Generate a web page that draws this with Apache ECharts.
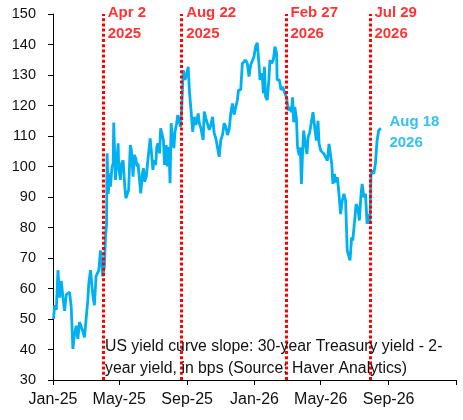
<!DOCTYPE html>
<html>
<head>
<meta charset="utf-8">
<script src="https://cdn.jsdelivr.net/npm/echarts@6/dist/echarts.min.js"></script>
<style>
html,body{margin:0;padding:0;background:#fff;}
#chart{width:463px;height:420px;}
</style>
</head>
<body>
<div id="chart"></div>
<script>
// ---- data ----
const dates = [
'2025-01-02','2025-01-04','2025-01-07','2025-01-10','2025-01-13','2025-01-16','2025-01-19','2025-01-22','2025-01-25','2025-01-28','2025-01-31',
'2025-02-03','2025-02-06','2025-02-09','2025-02-12','2025-02-15','2025-02-18','2025-02-21','2025-02-24','2025-02-27',
'2025-03-02','2025-03-05','2025-03-07','2025-03-10','2025-03-12','2025-03-14','2025-03-17','2025-03-20','2025-03-23','2025-03-25','2025-03-28','2025-03-30',
'2025-04-01','2025-04-04','2025-04-06','2025-04-08','2025-04-09','2025-04-11','2025-04-14','2025-04-15','2025-04-18','2025-04-20','2025-04-21','2025-04-24','2025-04-26','2025-04-29','2025-04-30',
'2025-05-03','2025-05-05','2025-05-08','2025-05-11','2025-05-13','2025-05-15','2025-05-18','2025-05-21','2025-05-23','2025-05-26','2025-05-28','2025-05-31',
'2025-06-02','2025-06-04','2025-06-07','2025-06-09','2025-06-12','2025-06-14','2025-06-16','2025-06-19','2025-06-21','2025-06-24','2025-06-26','2025-06-28',
'2025-07-01','2025-07-03','2025-07-06','2025-07-08','2025-07-10','2025-07-13','2025-07-15','2025-07-18','2025-07-20','2025-07-22','2025-07-25','2025-07-27','2025-07-30',
'2025-08-01','2025-08-03','2025-08-05','2025-08-08','2025-08-10','2025-08-13','2025-08-15','2025-08-17','2025-08-20','2025-08-22','2025-08-25','2025-08-28','2025-08-30',
'2025-09-03','2025-09-05','2025-09-08','2025-09-11','2025-09-14','2025-09-17','2025-09-21','2025-09-23','2025-09-26','2025-09-30',
'2025-10-02','2025-10-05','2025-10-08','2025-10-11','2025-10-14','2025-10-17','2025-10-20','2025-10-23','2025-10-26','2025-10-29',
'2025-11-01','2025-11-04','2025-11-07','2025-11-10','2025-11-13','2025-11-16','2025-11-19','2025-11-22','2025-11-25','2025-11-28',
'2025-12-01','2025-12-03','2025-12-07','2025-12-10','2025-12-13','2025-12-16','2025-12-19','2025-12-22','2025-12-25','2025-12-28','2025-12-31',
'2026-01-03','2026-01-06','2026-01-09','2026-01-11','2026-01-14','2026-01-15','2026-01-17','2026-01-19','2026-01-21','2026-01-24','2026-01-27','2026-01-29',
'2026-02-01','2026-02-04','2026-02-07','2026-02-10','2026-02-11','2026-02-15','2026-02-18','2026-02-21','2026-02-24','2026-02-27','2026-02-28',
'2026-03-03','2026-03-06','2026-03-09','2026-03-11','2026-03-13','2026-03-15','2026-03-18','2026-03-20','2026-03-23','2026-03-25','2026-03-27','2026-03-29','2026-03-31',
'2026-04-03','2026-04-06','2026-04-08','2026-04-11','2026-04-14','2026-04-17','2026-04-20','2026-04-23','2026-04-26','2026-04-28',
'2026-05-01','2026-05-04','2026-05-07','2026-05-10','2026-05-13','2026-05-16','2026-05-19','2026-05-21','2026-05-23','2026-05-26','2026-05-28','2026-05-31',
'2026-06-03','2026-06-06','2026-06-09','2026-06-12','2026-06-15','2026-06-18','2026-06-21','2026-06-23','2026-06-26','2026-06-28',
'2026-07-02','2026-07-04','2026-07-07','2026-07-10','2026-07-13','2026-07-15','2026-07-18','2026-07-21','2026-07-24','2026-07-26','2026-07-29','2026-07-31',
'2026-08-02','2026-08-05','2026-08-08','2026-08-11','2026-08-14','2026-08-18'
];
const slope = [
50,54.5,53,66,57,62.5,57,52.7,58,57.5,58.8,
54,40.2,45,47.8,43.5,49,49.5,46,44,
50,56,62,66,62,58,54.5,64,63.5,66,72.5,69.5,
64,67,76.8,81,104.3,91,97.8,93.4,100,101,114.4,95.6,95,107.6,100,
95.6,101,102,93.4,89.6,90,92.3,107,105.4,96.7,103.8,102.7,
100,101,95,91.2,97.8,99.4,95,96.7,100.5,100,109.2,105.4,
98.9,102.1,100.5,106.5,107.6,104.3,112.5,112,108.7,100.5,107,100,106.5,
94.5,114.2,109.8,106,111.4,114.2,116.9,116.3,113,118.5,131.6,128.4,129.5,
132.7,125,118.5,111.4,116.3,113.6,117.4,114.2,112.5,108.7,
118,115.8,116.3,112,113.6,116.3,110.9,109.2,108.7,103.2,
108.7,110.3,114.2,113,110.3,112,117.4,120.7,117,117,
121.8,125,125.1,133.8,134.4,134.9,133.8,129.5,133.3,133.8,136,
139.3,140.6,133.8,128.4,127.8,130.6,124,132.7,122.9,121.8,128.4,134.9,
133.8,134.9,139.3,137.1,128.4,128.4,125.1,126.2,124.5,124,122.7,
118.4,119.5,117.8,122.7,114.5,119.5,115.6,106.3,103.6,106.3,94.3,104.1,111.8,
107.4,104.1,109.6,111.2,111.8,117.8,112.9,108.5,115,107.4,
105.2,105.2,104.1,103.6,101.9,107.4,107.4,100.8,94.3,97.6,94.8,96.5,
91,84.4,88.8,91,88.8,72.4,71.9,69.2,76.8,75.7,
83.4,87.7,86.6,82.3,91,94.3,89.9,91,81.2,84.4,81.2,97.6,
98.7,97.6,100.8,108.5,111.8,112.5
];
const eventDates = ['2025-04-02','2025-08-22','2026-02-27','2026-07-29'];
const eventLabels = ['Apr 2\n2025','Aug 22\n2025','Feb 27\n2026','Jul 29\n2026'];
const endLabelText = 'Aug 18\n2026';
const xTickDates = ['2025-01-01','2025-05-01','2025-09-01','2026-01-01','2026-05-01','2026-09-01','2027-01-01'];
const xLabelDates = ['2025-01-01','2025-05-01','2025-09-01','2026-01-01','2026-05-01','2026-09-01'];
const noteText = 'US yield curve slope: 30-year Treasury yield - 2-\nyear yield, in bps (Source: Haver Analytics)';

// ---- helpers ----
function ts(s){ const p = s.split('-').map(Number); return Date.UTC(p[0], p[1]-1, p[2]); }
const MONTHS = ['Jan','Feb','Mar','Apr','May','Jun','Jul','Aug','Sep','Oct','Nov','Dec'];
const FONT = 'Liberation Sans';

const lineData = dates.map((d,i)=>[ts(d), slope[i]]);
const eventPoints = eventDates.map((d,i)=>({value:[ts(d),150], label:{formatter:eventLabels[i]}}));
const lastPoint = lineData[lineData.length-1];

const chart = echarts.init(document.getElementById('chart'), null, {renderer:'canvas'});
chart.setOption({
  animation:false,
  backgroundColor:'#fff',
  grid:{left:53, right:7, top:14, bottom:40},
  xAxis:{
    type:'value',
    min: ts('2025-01-01'), max: ts('2027-01-01'),
    axisLine:{show:true, lineStyle:{color:'#000', width:1}},
    axisTick:{show:true, length:5, customValues: xTickDates.map(ts), lineStyle:{color:'#000'}},
    axisLabel:{
      customValues: xLabelDates.map(ts),
      formatter:function(v){ const d=new Date(v); return MONTHS[d.getUTCMonth()]+'-'+String(d.getUTCFullYear()).slice(2); },
      fontSize:16, color:'#111', fontFamily:FONT, margin:12
    },
    splitLine:{show:false}
  },
  yAxis:{
    type:'value', min:30, max:150, interval:10,
    axisLine:{show:true, lineStyle:{color:'#000', width:1}},
    axisTick:{show:true, length:5, lineStyle:{color:'#000'}},
    axisLabel:{fontSize:14.5, color:'#111', fontFamily:FONT, margin:17},
    splitLine:{show:false}
  },
  series:[
    {
      type:'line', data:lineData, showSymbol:false, symbol:'none',
      lineStyle:{color:'#00B0F0', width:2.8},
      z:3,
      markLine:{
        silent:true, symbol:['none','none'],
        label:{show:false},
        lineStyle:{color:'#FF0000', width:3, type:[3,2.2]},
        data: eventDates.map(d=>({xAxis: ts(d)}))
      }
    },
    {
      type:'scatter', data:eventPoints, symbolSize:1, itemStyle:{color:'rgba(0,0,0,0)'}, silent:true, z:5,
      label:{show:true, position:'right', distance:4, offset:[0,9], color:'#FF0000',
        fontWeight:'bold', fontSize:15, lineHeight:21, fontFamily:FONT, align:'left'}
    },
    {
      type:'scatter', data:[{value:lastPoint, label:{formatter:endLabelText}}], symbolSize:1, itemStyle:{color:'rgba(0,0,0,0)'}, silent:true, z:5,
      label:{show:true, position:'right', distance:8, offset:[0,4], color:'#00B0F0',
        fontWeight:'bold', fontSize:15, lineHeight:21, fontFamily:FONT, align:'left'}
    }
  ],
  graphic:[{
    type:'text', left:105, top:336, silent:true, z:10,
    style:{text:noteText, fill:'#111', font:'15.8px "Liberation Sans"', lineHeight:22}
  }]
});
</script>
</body>
</html>
